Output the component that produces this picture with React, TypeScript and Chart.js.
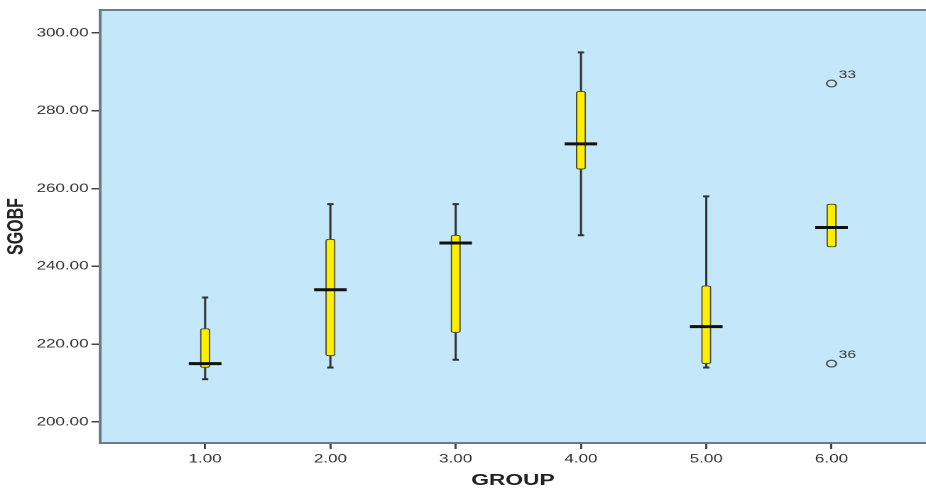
import React, { useEffect, useRef } from "react";
import { Chart, registerables } from "chart.js";

Chart.register(...registerables);

// ---- data ----
const groups = [1, 2, 3, 4, 5, 6];
const whiskerMin = [211, 214, 216, 248, 214, 245];
const q1 = [214, 217, 223, 265, 215, 245];
const medians = [215, 234, 246, 271.5, 224.5, 250];
const q3 = [224, 247, 248, 285, 235, 256];
const whiskerMax = [232, 256, 256, 295, 258, 256];
const outlierGroups = [6, 6];
const outlierValues = [287, 215];
const outlierLabels = ["33", "36"];
const xTicks = [1, 2, 3, 4, 5, 6];
const yTicks = [200, 220, 240, 260, 280, 300];

// logical canvas size (the reference image is stretched horizontally)
const LW = 652;
const LH = 490;

const FONT = "'Liberation Sans', Arial, sans-serif";

const boxPlugin = {
  id: "boxDecor",
  beforeDraw(chart: any) {
    const { ctx, chartArea } = chart;
    ctx.save();
    ctx.fillStyle = "#c5e7fa";
    ctx.fillRect(chartArea.left, chartArea.top, chartArea.right - chartArea.left, chartArea.bottom - chartArea.top);
    ctx.restore();
  },
  afterDraw(chart: any) {
    const { ctx, chartArea } = chart;
    ctx.save();
    ctx.strokeStyle = "#6f7b84";
    ctx.lineWidth = 2;
    ctx.beginPath();
    ctx.moveTo(chartArea.left - 1, chartArea.top);
    ctx.lineTo(chartArea.right, chartArea.top);
    ctx.stroke();
    ctx.restore();
  },
  beforeDatasetsDraw(chart: any) {
    const { ctx } = chart;
    const xs = chart.scales.x;
    const ys = chart.scales.y;
    ctx.save();
    ctx.strokeStyle = "#2f3336";
    groups.forEach((g, i) => {
      const x = xs.getPixelForValue(g);
      const segs: [number, number][] = [
        [q3[i], whiskerMax[i]],
        [q1[i], whiskerMin[i]],
      ];
      segs.forEach(([a, b]) => {
        if (a === b) return;
        const ya = ys.getPixelForValue(a);
        const yb = ys.getPixelForValue(b);
        ctx.lineWidth = 1.5;
        ctx.beginPath();
        ctx.moveTo(x, ya);
        ctx.lineTo(x, yb);
        ctx.stroke();
        ctx.lineWidth = 2;
        ctx.beginPath();
        ctx.moveTo(x - 2.2, yb);
        ctx.lineTo(x + 2.2, yb);
        ctx.stroke();
      });
    });
    ctx.restore();
  },
  afterDatasetsDraw(chart: any) {
    const { ctx } = chart;
    const xs = chart.scales.x;
    const ys = chart.scales.y;
    ctx.save();
    ctx.fillStyle = "#333";
    ctx.font = `11px ${FONT}`;
    ctx.textAlign = "left";
    ctx.textBaseline = "alphabetic";
    outlierGroups.forEach((g, i) => {
      const x = xs.getPixelForValue(g);
      const y = ys.getPixelForValue(outlierValues[i]);
      ctx.fillText(outlierLabels[i], x + 5, y - 5.5);
    });
    ctx.restore();
  },
};

export default function App() {
  const ref = useRef<HTMLCanvasElement | null>(null);

  useEffect(() => {
    const canvas = ref.current;
    if (!canvas) return;
    const chart = new Chart(canvas, {
      type: "bar",
      data: {
        datasets: [
          {
            type: "scatter",
            label: "median",
            order: 0,
            data: groups.map((g, i) => ({ x: g, y: medians[i] })),
            pointStyle: "line",
            pointRadius: 11.5,
            pointHoverRadius: 11.5,
            borderColor: "#111",
            borderWidth: 3,
          } as any,
          {
            type: "scatter",
            label: "outliers",
            order: 1,
            data: outlierGroups.map((g, i) => ({ x: g, y: outlierValues[i] })),
            pointStyle: "circle",
            pointRadius: 3.4,
            borderColor: "#4a4f52",
            backgroundColor: "rgba(0,0,0,0)",
            borderWidth: 1.2,
          } as any,
          {
            type: "bar",
            label: "box",
            order: 2,
            data: groups.map((g, i) => ({ x: g, y: [q1[i], q3[i]] })),
            backgroundColor: "#ffee00",
            borderColor: "#4a4a30",
            borderWidth: 1,
            borderRadius: 2,
            borderSkipped: false,
            barThickness: 6.5,
          } as any,
        ],
      },
      options: {
        responsive: false,
        devicePixelRatio: 2,
        animation: false,
        layout: { autoPadding: false, padding: { left: 0, right: 0, top: 10, bottom: 0 } },
        plugins: {
          legend: { display: false },
          tooltip: { enabled: false },
        },
        scales: {
          x: {
            type: "linear",
            min: 0.161,
            max: 6.754,
            offset: false,
            afterBuildTicks: (s: any) => {
              s.ticks = xTicks.map((v) => ({ value: v }));
            },
            afterFit: (s: any) => {
              s.height = 47;
              s.paddingLeft = 0;
              s.paddingRight = 0;
            },
            ticks: {
              callback: (v: any) => Number(v).toFixed(2),
              color: "#333",
              font: { family: FONT, size: 12 },
              padding: 3,
              maxRotation: 0,
              autoSkip: false,
            },
            grid: {
              display: true,
              offset: false,
              drawOnChartArea: false,
              drawTicks: true,
              tickLength: 6,
              color: "#444",
              lineWidth: 1.5,
            },
            border: { display: true, color: "#6f7b84", width: 2 },
            title: {
              display: true,
              text: "GROUP",
              color: "#222",
              font: { family: FONT, size: 16, weight: "bold" },
              padding: { top: 0, bottom: 0 },
            },
          },
          y: {
            type: "linear",
            min: 194.6,
            max: 305.9,
            afterBuildTicks: (s: any) => {
              s.ticks = yTicks.map((v) => ({ value: v }));
            },
            afterFit: (s: any) => {
              s.width = 70.4;
              s.paddingTop = 0;
              s.paddingBottom = 0;
            },
            ticks: {
              callback: (v: any) => Number(v).toFixed(2),
              color: "#333",
              font: { family: FONT, size: 12 },
              padding: 2,
            },
            grid: {
              display: true,
              offset: false,
              drawOnChartArea: false,
              drawTicks: true,
              tickLength: 6,
              color: "#444",
              lineWidth: 1.5,
            },
            border: { display: true, color: "#6f7b84", width: 2 },
            title: {
              display: true,
              text: "SGOBF",
              color: "#222",
              font: { family: FONT, size: 16, weight: "bold" },
              padding: { top: 2, bottom: 0 },
            },
          },
        },
      } as any,
      plugins: [boxPlugin],
    });
    return () => chart.destroy();
  }, []);

  return (
    <div style={{ position: "fixed", left: 0, top: 0, width: 926, height: 490, background: "#fff" }}>
      <canvas
        ref={ref}
        width={LW}
        height={LH}
        style={{ width: "926px", height: "490px", display: "block" }}
      />
    </div>
  );
}
